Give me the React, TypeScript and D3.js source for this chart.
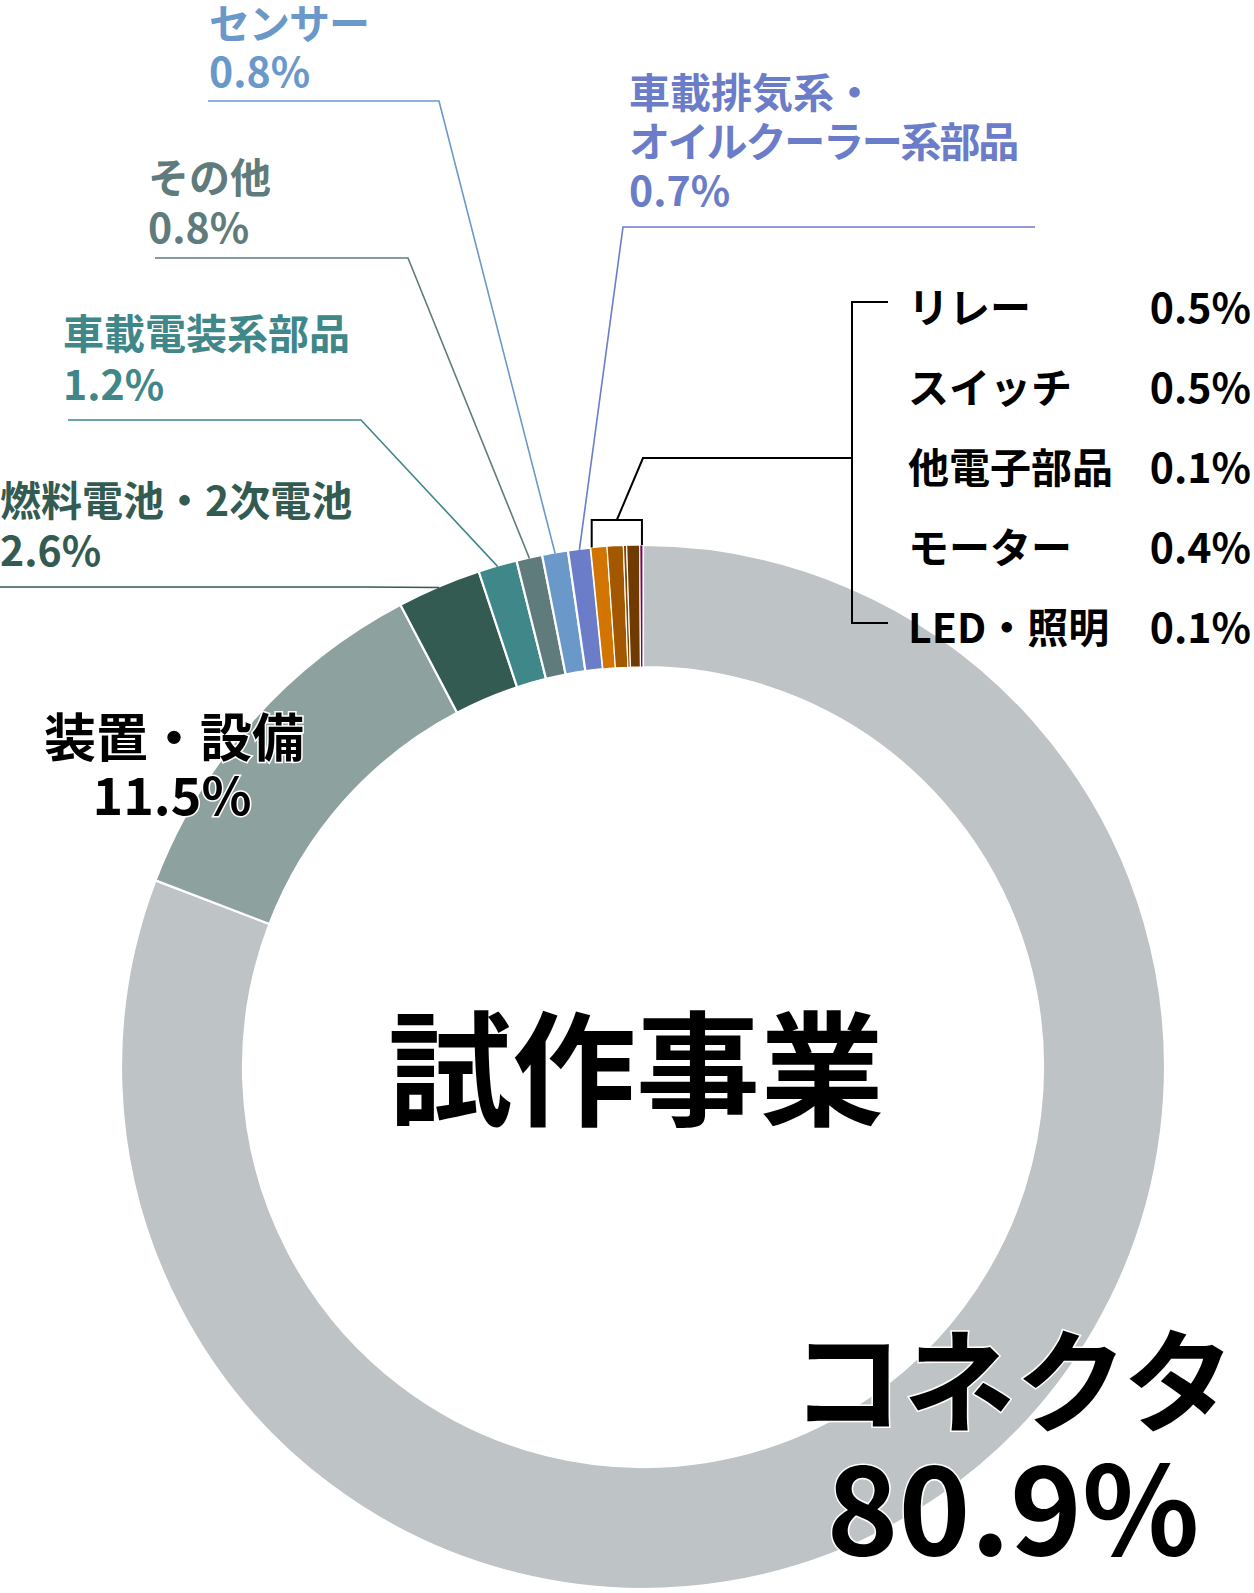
import React from "react";
import * as d3 from "d3";

// ---- data ----
const categories = [
  "コネクタ",
  "装置・設備",
  "燃料電池・2次電池",
  "車載電装系部品",
  "その他",
  "センサー",
  "車載排気系・オイルクーラー系部品",
  "リレー",
  "スイッチ",
  "他電子部品",
  "モーター",
  "LED・照明",
];
const values = [80.9, 11.5, 2.6, 1.2, 0.8, 0.8, 0.7, 0.5, 0.5, 0.1, 0.4, 0.1];
const sliceColors = [
  "#bec3c6",
  "#8da19f",
  "#335b52",
  "#40878a",
  "#5f7b7b",
  "#6a98c9",
  "#6b7cc9",
  "#d27400",
  "#a35800",
  "#874600",
  "#703b00",
  "#75005a",
];
const legendNames = ["リレー", "スイッチ", "他電子部品", "モーター", "LED・照明"];
const legendValues = ["0.5%", "0.5%", "0.1%", "0.4%", "0.1%"];

// ---- layout ----
const W = 1254;
const H = 1593;
const CX = 643;
const CY = 1067;
const R_OUT = 522;
const R_IN = 400;
const FONT = "'Noto Sans CJK JP', 'Noto Sans', sans-serif";

type Callout = {
  idx: number;
  lines: string[];
  x: number;
  ys: number[];
  sizes: number[];
  spacing: number[];
  lineY: number;
  lineX0: number;
  lineX1: number;
};

const callouts: Callout[] = [
  { idx: 5, lines: ["センサー", "0.8%"], x: 209, ys: [39, 87], sizes: [41, 41], spacing: [-1, 0], lineY: 101, lineX0: 208, lineX1: 439 },
  {
    idx: 6,
    lines: ["車載排気系・", "オイルクーラー系部品", "0.7%"],
    x: 629,
    ys: [108, 157, 206],
    sizes: [41, 41, 41],
    spacing: [0, -2.2, 0],
    lineY: 227,
    lineX0: 1035,
    lineX1: 623,
  },
  { idx: 4, lines: ["その他", "0.8%"], x: 148, ys: [193, 243], sizes: [41, 41], spacing: [0, 0], lineY: 258, lineX0: 155, lineX1: 408 },
  { idx: 3, lines: ["車載電装系部品", "1.2%"], x: 63, ys: [349, 400], sizes: [41, 41], spacing: [0, 0], lineY: 420, lineX0: 68, lineX1: 361 },
  { idx: 2, lines: ["燃料電池・2次電池", "2.6%"], x: 0, ys: [516, 566], sizes: [41, 41], spacing: [0, 0], lineY: 587, lineX0: 0, lineX1: 364 },
];

export default function App() {
  const pie = d3
    .pie<number>()
    .sort(null)
    .value((d) => d)
    .startAngle(0)
    .endAngle(2 * Math.PI);
  const arcs = pie(values);
  const arcGen = d3
    .arc<d3.PieArcDatum<number>>()
    .innerRadius(R_IN)
    .outerRadius(R_OUT);

  const outerPt = (a: number, r = R_OUT): [number, number] => [
    CX + r * Math.sin(a),
    CY - r * Math.cos(a),
  ];

  const smallStart = arcs[7].startAngle;
  const smallEnd = arcs[11].endAngle;
  const [bx0, by0] = outerPt(smallStart + 0.002);
  const [bx1, by1] = outerPt(smallEnd - 0.002);
  const bracketY = 520;
  const bMid = (bx0 + bx1) / 2;
  const legendX = 852;
  const legendTop = 302;
  const legendBottom = 623;
  const legendMidY = 458;
  const rowYs = legendNames.map((_, i) => 323 + i * 80);

  return (
    <svg
      width={W}
      height={H}
      viewBox={`0 0 ${W} ${H}`}
      style={{ position: "absolute", left: 0, top: 0, display: "block", background: "#fff" }}
      fontFamily={FONT}
      fontWeight={700}
    >
      <g transform={`translate(${CX},${CY})`}>
        {arcs.map((a, i) => (
          <path
            key={categories[i]}
            d={arcGen(a) || ""}
            fill={sliceColors[i]}
            stroke="#fff"
            strokeWidth={i >= 7 ? 1.2 : 2.2}
            strokeLinejoin="miter"
          />
        ))}
      </g>

      {callouts.map((c) => {
        const a = arcs[c.idx];
        const mid = (a.startAngle + a.endAngle) / 2;
        const [px, py] = outerPt(mid, R_OUT - 1);
        const col = sliceColors[c.idx];
        return (
          <g key={c.idx}>
            <polyline
              points={`${c.lineX0},${c.lineY} ${c.lineX1},${c.lineY} ${px},${py}`}
              fill="none"
              stroke={col}
              strokeWidth={1.6}
            />
            {c.lines.map((t, j) => (
              <text key={j} x={c.x} y={c.ys[j]} fill={col} fontSize={c.sizes[j]} letterSpacing={c.spacing[j]}>
                {t}
              </text>
            ))}
          </g>
        );
      })}

      {/* bracket for small slices */}
      <polyline
        points={`${bx0},${by0} ${bx0},${bracketY} ${bx1},${bracketY} ${bx1},${by1}`}
        fill="none"
        stroke="#000"
        strokeWidth={2}
      />
      <polyline
        points={`${bMid},${bracketY} ${CX},${legendMidY} ${legendX},${legendMidY}`}
        fill="none"
        stroke="#000"
        strokeWidth={2}
      />
      <polyline
        points={`${legendX + 36},${legendTop} ${legendX},${legendTop} ${legendX},${legendBottom} ${legendX + 36},${legendBottom}`}
        fill="none"
        stroke="#000"
        strokeWidth={2}
      />
      {legendNames.map((n, i) => (
        <g key={n}>
          <text x={908} y={rowYs[i]} fontSize={41} fill="#000">
            {n}
          </text>
          <text x={1251} y={rowYs[i]} fontSize={41} fill="#000" textAnchor="end">
            {legendValues[i]}
          </text>
        </g>
      ))}

      {/* 装置・設備 label */}
      <g fill="#000" stroke="#fff" strokeWidth={3} paintOrder="stroke" textAnchor="middle">
        <text x={174} y={757} fontSize={52}>
          {categories[1]}
        </text>
        <text x={172} y={815} fontSize={52}>
          {values[1].toFixed(1)}%
        </text>
      </g>

      {/* centre title */}
      <text x={636} y={1116} fontSize={124} textAnchor="middle" fill="#000">
        試作事業
      </text>

      {/* コネクタ label */}
      <g fill="#000" stroke="#fff" strokeWidth={3} paintOrder="stroke" textAnchor="middle">
        <text x={1013} y={1424} fontSize={112}>
          {categories[0]}
        </text>
        <text x={1013} y={1555} fontSize={122}>
          {values[0].toFixed(1)}%
        </text>
      </g>
    </svg>
  );
}
